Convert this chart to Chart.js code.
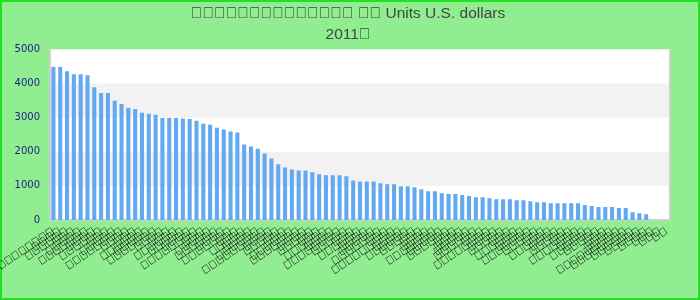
<!DOCTYPE html>
<html>
<head>
<meta charset="utf-8">
<script src="https://cdn.jsdelivr.net/npm/chart.js@4"></script>
<style>
  html, body { margin: 0; padding: 0; background: #fff; }
  #wrap { width: 700px; height: 300px; position: relative; }
</style>
</head>
<body>
<div id="wrap"><canvas id="chart" width="700" height="300"></canvas></div>
<script>
// the reference text is unreadable (missing glyphs), so it is kept as tofu characters
const T = '\uE000'
const titleLines = [T.repeat(14) + ' ' + T.repeat(2) + ' Units U.S. dollars', '2011' + T]

const labelLengths = [14, 4, 6, 3, 5, 7, 4, 6, 3, 5, 8, 4, 3, 6, 5, 7, 4, 3, 6, 5,
  4, 8, 3, 5, 6, 4, 7, 3, 5, 4, 6, 9, 4, 5, 3, 6, 7, 4, 5, 3,
  6, 4, 8, 5, 3, 6, 4, 5, 7, 3, 9, 4, 6, 5, 3, 4, 7, 5, 6, 3,
  4, 5, 6, 3, 8, 4, 5, 3, 6, 4, 7, 5, 3, 6, 4, 5, 3, 7, 4, 6,
  5, 3, 4, 9, 8, 6, 5, 4, 3, 3, 2]
const categories = labelLengths.map(n => T.repeat(n))

const values = [4480, 4480, 4360, 4270, 4270, 4240, 3890, 3720, 3720, 3490,
  3400, 3290, 3250, 3140, 3110, 3080, 2990, 2990, 2990, 2970,
  2960, 2910, 2820, 2790, 2700, 2650, 2590, 2560, 2210, 2150,
  2090, 1950, 1800, 1630, 1540, 1480, 1450, 1450, 1400, 1340,
  1310, 1310, 1310, 1280, 1160, 1130, 1130, 1130, 1080, 1050,
  1050, 990, 990, 960, 900, 840, 840, 780, 760, 760,
  730, 700, 670, 670, 640, 610, 610, 610, 580, 580,
  550, 520, 520, 490, 490, 490, 490, 490, 440, 410,
  380, 380, 380, 350, 350, 230, 200, 170, null, null, null]

const yTicks = [0, 1000, 2000, 3000, 4000, 5000]

const frame = {
  id: 'frame',
  beforeDraw(chart) {
    const c = chart.ctx
    c.save()
    c.fillStyle = '#90ee90'
    c.fillRect(0, 0, chart.width, chart.height)
    c.strokeStyle = '#22e022'
    c.lineWidth = 2
    c.strokeRect(1, 1, chart.width - 2, chart.height - 2)
    const a = chart.chartArea
    const y = chart.scales.y
    c.fillStyle = '#ffffff'
    c.fillRect(a.left, a.top, a.right - a.left, a.bottom - a.top)
    c.fillStyle = '#f2f2f2'
    for (let i = 0; i < yTicks.length - 1; i++) {
      if (i % 2 === 1) {
        const top = y.getPixelForValue(yTicks[i + 1])
        const bot = y.getPixelForValue(yTicks[i])
        c.fillRect(a.left, top, a.right - a.left, bot - top)
      }
    }
    c.strokeStyle = '#cfcfcf'
    c.lineWidth = 2
    c.beginPath()
    c.moveTo(a.left, a.top)
    c.lineTo(a.left, a.bottom)
    c.lineTo(a.right, a.bottom)
    c.lineTo(a.right, a.top)
    c.stroke()
    c.restore()
  }
}

new Chart(document.getElementById('chart'), {
  type: 'bar',
  data: {
    labels: categories,
    datasets: [{
      data: values,
      backgroundColor: '#63a9f2',
      categoryPercentage: 1,
      barPercentage: 0.6
    }]
  },
  options: {
    responsive: false,
    animation: false,
    layout: { padding: { left: 0, right: 4, top: 0, bottom: 0 } },
    plugins: {
      legend: { display: false },
      tooltip: { enabled: false },
      title: {
        display: true,
        text: titleLines,
        color: '#444444',
        font: { family: 'Liberation Sans', size: 15.5, weight: 'normal', lineHeight: 1.3 },
        padding: { top: 4, bottom: 5 }
      }
    },
    scales: {
      x: {
        grid: { display: false, drawTicks: false },
        border: { display: false },
        afterFit(s) {
          s.height = 80
          s.paddingLeft = 0
          s.paddingRight = 30
        },
        ticks: {
          autoSkip: false,
          minRotation: 34,
          maxRotation: 34,
          padding: 5,
          color: '#000000',
          font: { family: 'Liberation Sans', size: 11 }
        }
      },
      y: {
        min: 0,
        max: 5000,
        afterFit(s) { s.width = 50 },
        grid: { display: false, drawTicks: false },
        border: { display: false },
        ticks: {
          stepSize: 1000,
          padding: 10,
          color: '#1c1c8a',
          font: { family: 'DejaVu Sans', size: 10 },
          callback: v => String(v)
        }
      }
    }
  },
  plugins: [frame]
})
</script>
</body>
</html>
